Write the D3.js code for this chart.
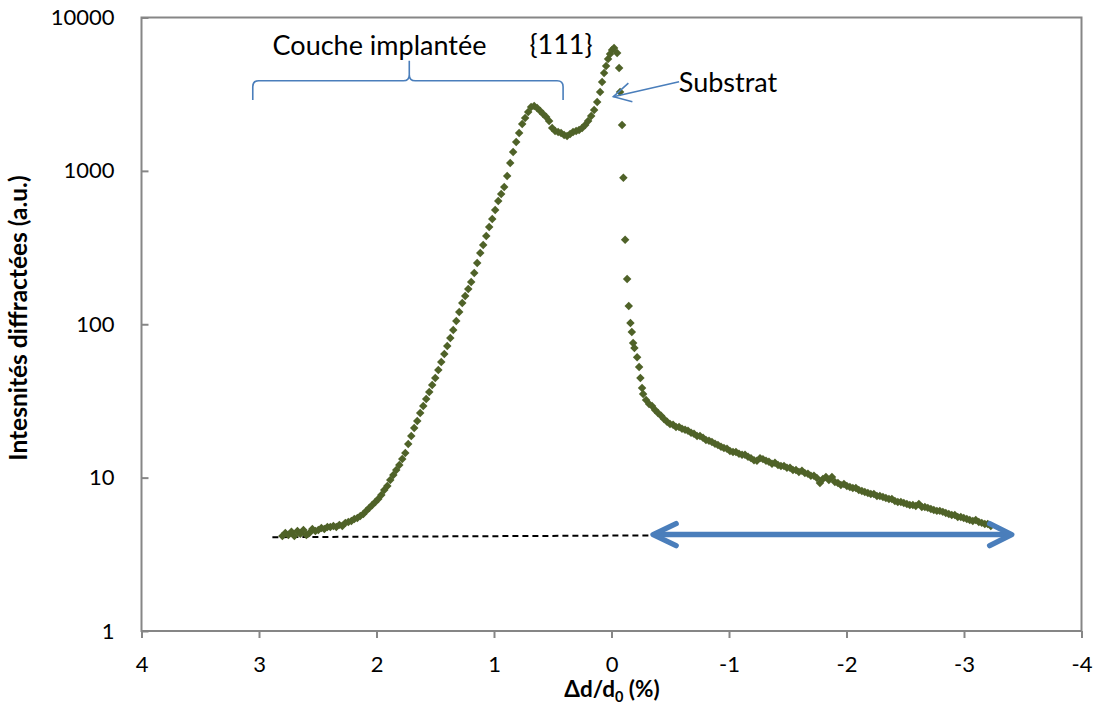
<!DOCTYPE html>
<html><head><meta charset="utf-8">
<script src="https://cdn.jsdelivr.net/npm/d3@7"></script>
<style>
body{margin:0;background:#fff}
svg{display:block}
text{font-family:Lato,"Open Sans",sans-serif;fill:#000}
</style>
</head><body>
<svg id="chart" width="1096" height="706"></svg>
<script>
// Δd/d0 (%) values of each measured point
const deltaD = [
2.801,2.776,2.750,2.724,2.699,2.673,2.648,2.622,2.597,2.571,2.546,2.520,2.495,2.469,2.444,2.418,2.393,2.367,2.342,2.316,
2.291,2.265,2.240,2.214,2.189,2.163,2.138,2.112,2.087,2.061,2.036,2.010,1.985,1.959,1.934,1.908,1.883,1.857,1.832,1.806,
1.781,1.755,1.730,1.704,1.679,1.653,1.628,1.602,1.577,1.551,1.526,1.500,1.474,1.449,1.423,1.398,1.372,1.347,1.321,1.296,
1.270,1.245,1.219,1.194,1.168,1.143,1.117,1.092,1.066,1.041,1.015,0.990,0.964,0.939,0.913,0.888,0.862,0.837,0.811,0.786,
0.760,0.735,0.709,0.684,0.658,0.633,0.607,0.582,0.556,0.531,0.505,0.480,0.454,0.429,0.403,0.378,0.352,0.327,0.301,0.276,
0.250,0.224,0.199,0.173,0.148,0.122,0.097,0.080,0.063,0.046,0.029,0.012,-0.005,-0.022,
-0.048,-0.065,-0.073,-0.090,-0.101,-0.116,-0.133,-0.147,-0.161,-0.173,-0.184,-0.195,-0.218,-0.235,-0.246,-0.260,
-0.269,-0.294,-0.320,-0.345,-0.371,-0.396,-0.422,-0.447,-0.473,-0.498,-0.524,-0.549,-0.575,-0.600,-0.626,-0.651,-0.677,-0.702,-0.728,-0.753,
-0.779,-0.804,-0.830,-0.855,-0.881,-0.906,-0.932,-0.957,-0.983,-1.008,-1.034,-1.059,-1.085,-1.111,-1.136,-1.162,-1.187,-1.213,-1.238,-1.264,
-1.289,-1.315,-1.340,-1.366,-1.391,-1.417,-1.442,-1.468,-1.493,-1.519,-1.544,-1.570,-1.595,-1.621,-1.646,-1.672,-1.697,-1.723,-1.748,-1.774,
-1.799,-1.825,-1.850,-1.876,-1.901,-1.927,-1.952,-1.978,-2.003,-2.029,-2.054,-2.080,-2.105,-2.131,-2.156,-2.182,-2.207,-2.233,-2.259,-2.284,
-2.310,-2.335,-2.361,-2.386,-2.412,-2.437,-2.463,-2.488,-2.514,-2.539,-2.565,-2.590,-2.616,-2.641,-2.667,-2.692,-2.718,-2.743,-2.769,-2.794,
-2.820,-2.845,-2.871,-2.896,-2.922,-2.947,-2.973,-2.998,-3.024,-3.049,-3.075,-3.100,-3.126,-3.151,-3.177,-3.202,-3.228
];
// diffracted intensity (a.u.) of each point
const intensity = [
4.17,4.36,4.23,4.43,4.17,4.49,4.30,4.56,4.23,4.36,4.63,4.49,4.56,4.70,4.63,4.77,4.77,4.84,4.77,4.92,
4.84,5.07,5.14,5.22,5.38,5.46,5.63,5.80,6.07,6.35,6.64,6.94,7.26,7.71,8.31,8.83,9.66,10.41,11.22,12.10,
13.24,14.49,16.59,18.70,21.09,23.42,26.41,29.34,32.58,36.21,40.21,44.67,50.36,56.78,64.03,72.20,81.42,91.80,105.1,120.3,
137.7,152.9,169.9,188.7,215.9,250.9,291.5,328.8,376.4,430.9,485.9,556.2,636.6,707.2,785.2,926.4,1126,1328,1543,1766,
2022,2213,2421,2610,2650,2570,2458,2349,2246,2115,1904,1820,1793,1766,1714,1689,1740,1793,1820,1848,
1904,1991,2115,2280,2495,2813,3268,3798,4346,4829,5364,5783,6139,6327,
5870,4690,3268,1991,903,356,197,131.5,102,89,75.5,70,61,52.7,44.7,38.4,
35.1,32.1,30.2,29.3,27.6,26.4,25.3,24.1,23.1,22.4,22.1,21.4,21.4,20.8,20.5,20.2,19.6,19.3,18.7,18.7,
18.2,17.6,17.4,17.1,16.6,16.3,15.9,15.6,15.4,14.9,14.7,14.7,14.3,14.1,14.1,13.7,13.4,13.0,12.9,13.4,
13.2,12.9,12.7,12.3,12.5,12.1,11.9,11.9,11.6,11.6,11.2,11.2,10.9,11.1,10.7,10.6,10.3,10.3,9.95,9.24,
9.81,10.1,9.66,10.1,9.38,9.24,8.96,9.10,8.83,8.70,8.57,8.57,8.31,8.19,8.07,7.95,7.83,7.83,7.60,7.60,
7.48,7.37,7.26,7.26,7.05,6.94,6.94,6.84,6.74,6.64,6.64,6.54,6.74,6.44,6.44,6.35,6.25,6.16,6.07,6.07,
5.98,5.89,5.80,5.71,5.71,5.54,5.54,5.46,5.38,5.30,5.22,5.30,5.14,5.07,4.99,4.99,4.84
];
const xTicks = [4,3,2,1,0,-1,-2,-3,-4];
const yTicks = [1,10,100,1000,10000];
const yTitle = "Intesnités diffractées (a.u.)";
const layerLabel = "Couche implantée";
const peakLabel = "{111}";
const substrateLabel = "Substrat";
// annotation anchor points in data units [Δd/d0, intensity]
const braceSpan = [3.053, 0.412];
const braceCenter = 1.721;
const braceLevels = {end: 2897, bar: 3873, tip: 5227};
const baseline = [[2.886, 4.09], [-0.354, 4.20]];
const widthArrow = [[-0.354, 4.25], [-3.406, 4.25]];
const substrateArrow = [[-0.575, 3815], [-0.016, 3047]];

(function draw() {
const svg = d3.select("#chart");
const pLeft = 141.5, pRight = 1081.5, pTop = 17.5, pBottom = 631;
const x = d3.scaleLinear().domain([4, -4]).range([pLeft, pRight]);
const y = d3.scaleLog().domain([1, 10000]).range([pBottom, pTop]);
const blue = "#4a7ebb", olive = "#4f6228", gridGrey = "#868686";

// x axis
const xa = svg.append("g").attr("transform", `translate(0,${pBottom})`)
  .call(d3.axisBottom(x).tickValues(xTicks).tickSize(7).tickPadding(18).tickFormat(d => String(d)));
xa.select(".domain").remove();
xa.selectAll("line").attr("stroke", gridGrey).attr("stroke-width", 2);
xa.selectAll("text").style("font-size", "22px").attr("font-family", null);

// y axis
const ya = svg.append("g").attr("transform", `translate(${pLeft},0)`)
  .call(d3.axisLeft(y).tickValues(yTicks).tickSizeInner(-7).tickSizeOuter(0).tickPadding(27).tickFormat(d => String(d)));
ya.select(".domain").remove();
ya.selectAll("line").attr("stroke", gridGrey).attr("stroke-width", 2);
ya.selectAll("text").style("font-size", "22px").attr("font-family", null);

// plot frame
svg.append("rect").attr("x", pLeft).attr("y", pTop).attr("width", pRight - pLeft).attr("height", pBottom - pTop)
  .attr("fill", "none").attr("stroke", gridGrey).attr("stroke-width", 2);

// dashed baseline
svg.append("line")
  .attr("x1", x(baseline[0][0])).attr("y1", y(baseline[0][1]))
  .attr("x2", x(baseline[1][0])).attr("y2", y(baseline[1][1]))
  .attr("stroke", "#000").attr("stroke-width", 2).attr("stroke-dasharray", "6,4");

// points
const diamond = {draw(ctx, size) { const r = Math.sqrt(size / 2);
  ctx.moveTo(0, -r); ctx.lineTo(r, 0); ctx.lineTo(0, r); ctx.lineTo(-r, 0); ctx.closePath(); }};
const pts = deltaD.map((d, i) => [d, intensity[i]]);
svg.append("g").selectAll("path").data(pts).join("path")
  .attr("d", d3.symbol().type(diamond).size(36))
  .attr("transform", d => `translate(${x(d[0])},${y(d[1])})`)
  .attr("fill", olive);

// double arrow
const ax1 = x(widthArrow[0][0]), ax2 = x(widthArrow[1][0]), ay = y(widthArrow[0][1]);
const ag = svg.append("g").attr("stroke", blue).attr("stroke-width", 5.5).attr("fill", "none")
  .attr("stroke-linecap", "round").attr("stroke-linejoin", "round");
ag.append("line").attr("x1", ax1 + 2).attr("y1", ay).attr("x2", ax2 - 2).attr("y2", ay);
ag.append("path").attr("d", `M${ax1 + 23},${ay - 11} L${ax1},${ay} L${ax1 + 23},${ay + 11}`);
ag.append("path").attr("d", `M${ax2 - 22},${ay - 11} L${ax2},${ay} L${ax2 - 22},${ay + 11}`);

// brace
const bx0 = x(braceSpan[0]), bx1 = x(braceSpan[1]), bxc = x(braceCenter);
const yEnd = y(braceLevels.end), yBar = y(braceLevels.bar), yTip = y(braceLevels.tip);
const r = 6;
svg.append("path")
  .attr("d", `M${bx0},${yEnd} L${bx0},${yBar + r} Q${bx0},${yBar} ${bx0 + r},${yBar} L${bxc - r},${yBar} Q${bxc},${yBar} ${bxc},${yBar - r} L${bxc},${yTip}`
    + ` M${bxc},${yBar - r} Q${bxc},${yBar} ${bxc + r},${yBar} L${bx1 - r},${yBar} Q${bx1},${yBar} ${bx1},${yBar + r} L${bx1},${yEnd}`)
  .attr("fill", "none").attr("stroke", blue).attr("stroke-width", 1.6);

// substrate arrow
const sx1 = x(substrateArrow[0][0]), sy1 = y(substrateArrow[0][1]);
const sx2 = x(substrateArrow[1][0]), sy2 = y(substrateArrow[1][1]);
const sg = svg.append("g").attr("stroke", blue).attr("stroke-width", 1.6).attr("fill", "none");
sg.append("line").attr("x1", sx1).attr("y1", sy1).attr("x2", sx2).attr("y2", sy2);
sg.append("path").attr("d", `M${sx2 + 15},${sy2 - 13.5} L${sx2},${sy2} L${sx2 + 19},${sy2 + 5}`);

// annotation texts
svg.append("text").attr("x", 379.5).attr("y", 55).attr("text-anchor", "middle").style("font-size", "27px").text(layerLabel);
svg.append("text").attr("x", 561).attr("y", 54).attr("text-anchor", "middle").style("font-size", "27px").text(peakLabel);
svg.append("text").attr("x", 728).attr("y", 92).attr("text-anchor", "middle").style("font-size", "27px").text(substrateLabel);

// axis titles
svg.append("text").attr("transform", "translate(27,318) rotate(-90)").attr("text-anchor", "middle")
  .style("font-size", "24.5px").style("font-weight", "bold").text(yTitle);
const xt = svg.append("text").attr("x", 612).attr("y", 697).attr("text-anchor", "middle")
  .style("font-size", "22.5px").style("font-weight", "bold");
xt.append("tspan").text("Δd/d");
xt.append("tspan").attr("dy", 5).style("font-size", "14.5px").text("0");
xt.append("tspan").attr("dy", -5).text(" (%)");
})();
</script>
</body></html>
